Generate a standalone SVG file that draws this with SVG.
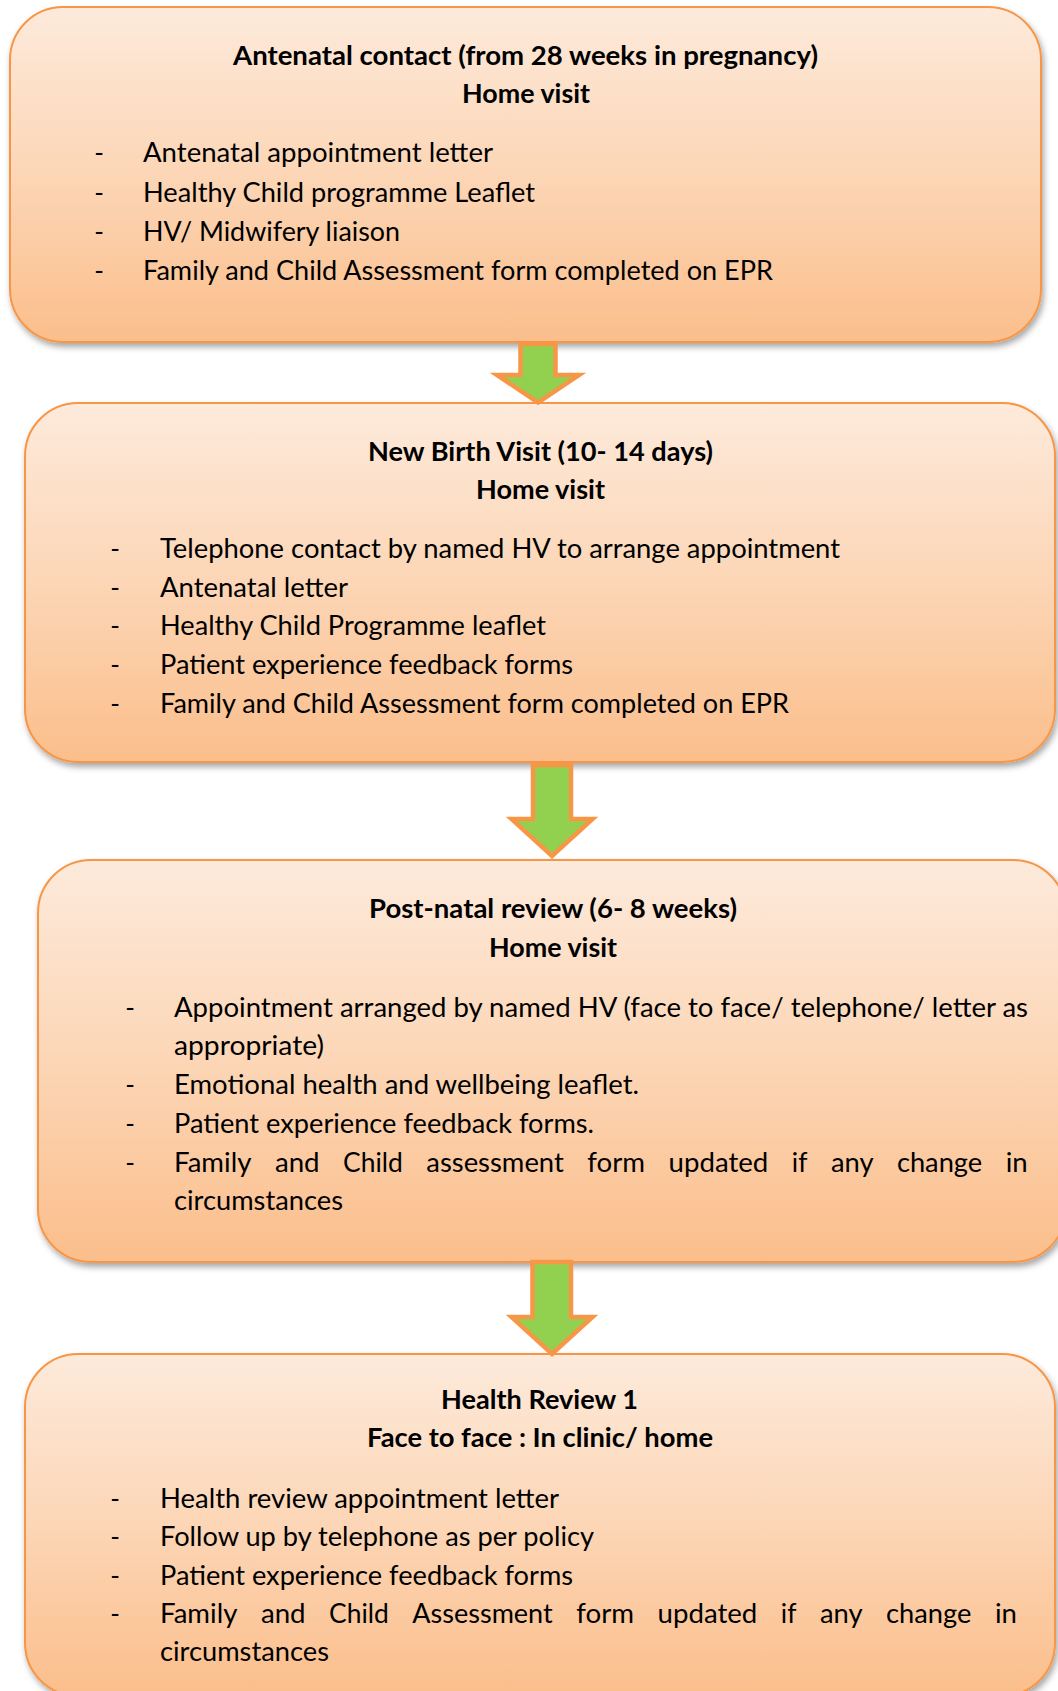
<svg xmlns="http://www.w3.org/2000/svg" width="1058" height="1691" viewBox="0 0 1058 1691">
<style>
.box{fill:url(#bg);stroke:#f79646;stroke-width:2;filter:url(#sh)}
.arr{fill:#92d050;stroke:#f79646;stroke-width:4.5;stroke-linejoin:miter}
text{font-family:Lato,"Open Sans","Liberation Sans",sans-serif;font-size:26px;fill:#000}
.t{font-weight:bold;text-anchor:middle}
.d{text-anchor:middle}
</style>
<defs>
<linearGradient id="bg" x1="0" y1="0" x2="0" y2="1">
<stop offset="0" stop-color="#fdeadb"/>
<stop offset="0.5" stop-color="#fcd6b6"/>
<stop offset="1" stop-color="#fbbe8b"/>
</linearGradient>
<filter id="sh" x="-5%" y="-5%" width="110%" height="115%">
<feDropShadow dx="2" dy="4" stdDeviation="3" flood-color="#000" flood-opacity="0.35"/>
</filter>
</defs>

<g id="node1">
<rect class="box" x="10" y="7" width="1031" height="335" rx="53"/>
<text class="t" x="525.5" y="65" textLength="585" lengthAdjust="spacingAndGlyphs">Antenatal contact (from 28 weeks in pregnancy)</text>
<text class="t" x="526" y="103" textLength="128" lengthAdjust="spacingAndGlyphs">Home visit</text>
<text class="d" x="99" y="162">-</text>
<text x="143" y="162" textLength="350" lengthAdjust="spacingAndGlyphs">Antenatal appointment letter</text>
<text class="d" x="99" y="202">-</text>
<text x="143" y="202" textLength="392" lengthAdjust="spacingAndGlyphs">Healthy Child programme Leaflet</text>
<text class="d" x="99" y="241">-</text>
<text x="143" y="241" textLength="257" lengthAdjust="spacingAndGlyphs">HV/ Midwifery liaison</text>
<text class="d" x="99" y="280">-</text>
<text x="143" y="280" textLength="630" lengthAdjust="spacingAndGlyphs">Family and Child Assessment form completed on EPR</text>
</g>

<g id="node2">
<rect class="box" x="25" y="403" width="1030" height="359" rx="53"/>
<text class="t" x="540.5" y="461" textLength="345" lengthAdjust="spacingAndGlyphs">New Birth Visit (10- 14 days)</text>
<text class="t" x="540.5" y="499" textLength="129" lengthAdjust="spacingAndGlyphs">Home visit</text>
<text class="d" x="115" y="558">-</text>
<text x="160" y="558" textLength="680" lengthAdjust="spacingAndGlyphs">Telephone contact by named HV to arrange appointment</text>
<text class="d" x="115" y="597">-</text>
<text x="160" y="597" textLength="188" lengthAdjust="spacingAndGlyphs">Antenatal letter</text>
<text class="d" x="115" y="635">-</text>
<text x="160" y="635" textLength="386" lengthAdjust="spacingAndGlyphs">Healthy Child Programme leaflet</text>
<text class="d" x="115" y="674">-</text>
<text x="160" y="674" textLength="413" lengthAdjust="spacingAndGlyphs">Patient experience feedback forms</text>
<text class="d" x="115" y="713">-</text>
<text x="160" y="713" textLength="629" lengthAdjust="spacingAndGlyphs">Family and Child Assessment form completed on EPR</text>
</g>

<g id="node3">
<rect class="box" x="38" y="860" width="1028" height="402" rx="53"/>
<text class="t" x="553" y="918" textLength="368" lengthAdjust="spacingAndGlyphs">Post-natal review (6- 8 weeks)</text>
<text class="t" x="553" y="957" textLength="128" lengthAdjust="spacingAndGlyphs">Home visit</text>
<text class="d" x="130" y="1017">-</text>
<text x="174" y="1017" textLength="854" lengthAdjust="spacingAndGlyphs">Appointment arranged by named HV (face to face/ telephone/ letter as</text>
<text x="174" y="1055" textLength="150" lengthAdjust="spacingAndGlyphs">appropriate)</text>
<text class="d" x="130" y="1094">-</text>
<text x="174" y="1094" textLength="465" lengthAdjust="spacingAndGlyphs">Emotional health and wellbeing leaflet.</text>
<text class="d" x="130" y="1133">-</text>
<text x="174" y="1133" textLength="420" lengthAdjust="spacingAndGlyphs">Patient experience feedback forms.</text>
<text class="d" x="130" y="1172">-</text>
<text y="1172"><tspan x="174" textLength="77.4" lengthAdjust="spacingAndGlyphs">Family</tspan><tspan x="274.9" textLength="44.7" lengthAdjust="spacingAndGlyphs">and</tspan><tspan x="343.1" textLength="59.7" lengthAdjust="spacingAndGlyphs">Child</tspan><tspan x="426.3" textLength="137.5" lengthAdjust="spacingAndGlyphs">assessment</tspan><tspan x="587.3" textLength="57.8" lengthAdjust="spacingAndGlyphs">form</tspan><tspan x="668.6" textLength="99.7" lengthAdjust="spacingAndGlyphs">updated</tspan><tspan x="791.8" textLength="15.6" lengthAdjust="spacingAndGlyphs">if</tspan><tspan x="830.9" textLength="42.6" lengthAdjust="spacingAndGlyphs">any</tspan><tspan x="896.9" textLength="85.3" lengthAdjust="spacingAndGlyphs">change</tspan><tspan x="1005.7" textLength="22" lengthAdjust="spacingAndGlyphs">in</tspan></text>
<text x="174" y="1210" textLength="169" lengthAdjust="spacingAndGlyphs">circumstances</text>
</g>

<g id="node4">
<rect class="box" x="25" y="1354" width="1030" height="342" rx="53"/>
<text class="t" x="539.5" y="1409" textLength="197" lengthAdjust="spacingAndGlyphs">Health Review 1</text>
<text class="t" x="540" y="1447" textLength="346" lengthAdjust="spacingAndGlyphs">Face to face : In clinic/ home</text>
<text class="d" x="115" y="1508">-</text>
<text x="160" y="1508" textLength="399" lengthAdjust="spacingAndGlyphs">Health review appointment letter</text>
<text class="d" x="115" y="1546">-</text>
<text x="160" y="1546" textLength="434" lengthAdjust="spacingAndGlyphs">Follow up by telephone as per policy</text>
<text class="d" x="115" y="1585">-</text>
<text x="160" y="1585" textLength="413" lengthAdjust="spacingAndGlyphs">Patient experience feedback forms</text>
<text class="d" x="115" y="1623">-</text>
<text y="1623"><tspan x="160" textLength="77.4" lengthAdjust="spacingAndGlyphs">Family</tspan><tspan x="260.9" textLength="44.7" lengthAdjust="spacingAndGlyphs">and</tspan><tspan x="329.1" textLength="59.7" lengthAdjust="spacingAndGlyphs">Child</tspan><tspan x="412.3" textLength="140.4" lengthAdjust="spacingAndGlyphs">Assessment</tspan><tspan x="576.2" textLength="57.8" lengthAdjust="spacingAndGlyphs">form</tspan><tspan x="657.6" textLength="99.7" lengthAdjust="spacingAndGlyphs">updated</tspan><tspan x="780.8" textLength="15.6" lengthAdjust="spacingAndGlyphs">if</tspan><tspan x="820" textLength="42.6" lengthAdjust="spacingAndGlyphs">any</tspan><tspan x="886.1" textLength="85.3" lengthAdjust="spacingAndGlyphs">change</tspan><tspan x="994.9" textLength="22" lengthAdjust="spacingAndGlyphs">in</tspan></text>
<text x="160" y="1661" textLength="169" lengthAdjust="spacingAndGlyphs">circumstances</text>
</g>

<g id="connectors">
<path class="arr" d="M520.5,344 L555.5,344 L555.5,375 L579,375 L538,402.5 L497,375 L520.5,375 Z"/>
<path class="arr" d="M533,765 L571,765 L571,819 L592.5,819 L552,856 L511.5,819 L533,819 Z"/>
<path class="arr" d="M532.5,1262 L571,1262 L571,1317 L592.5,1317 L552,1354 L511.5,1317 L532.5,1317 Z"/>
</g>
</svg>
